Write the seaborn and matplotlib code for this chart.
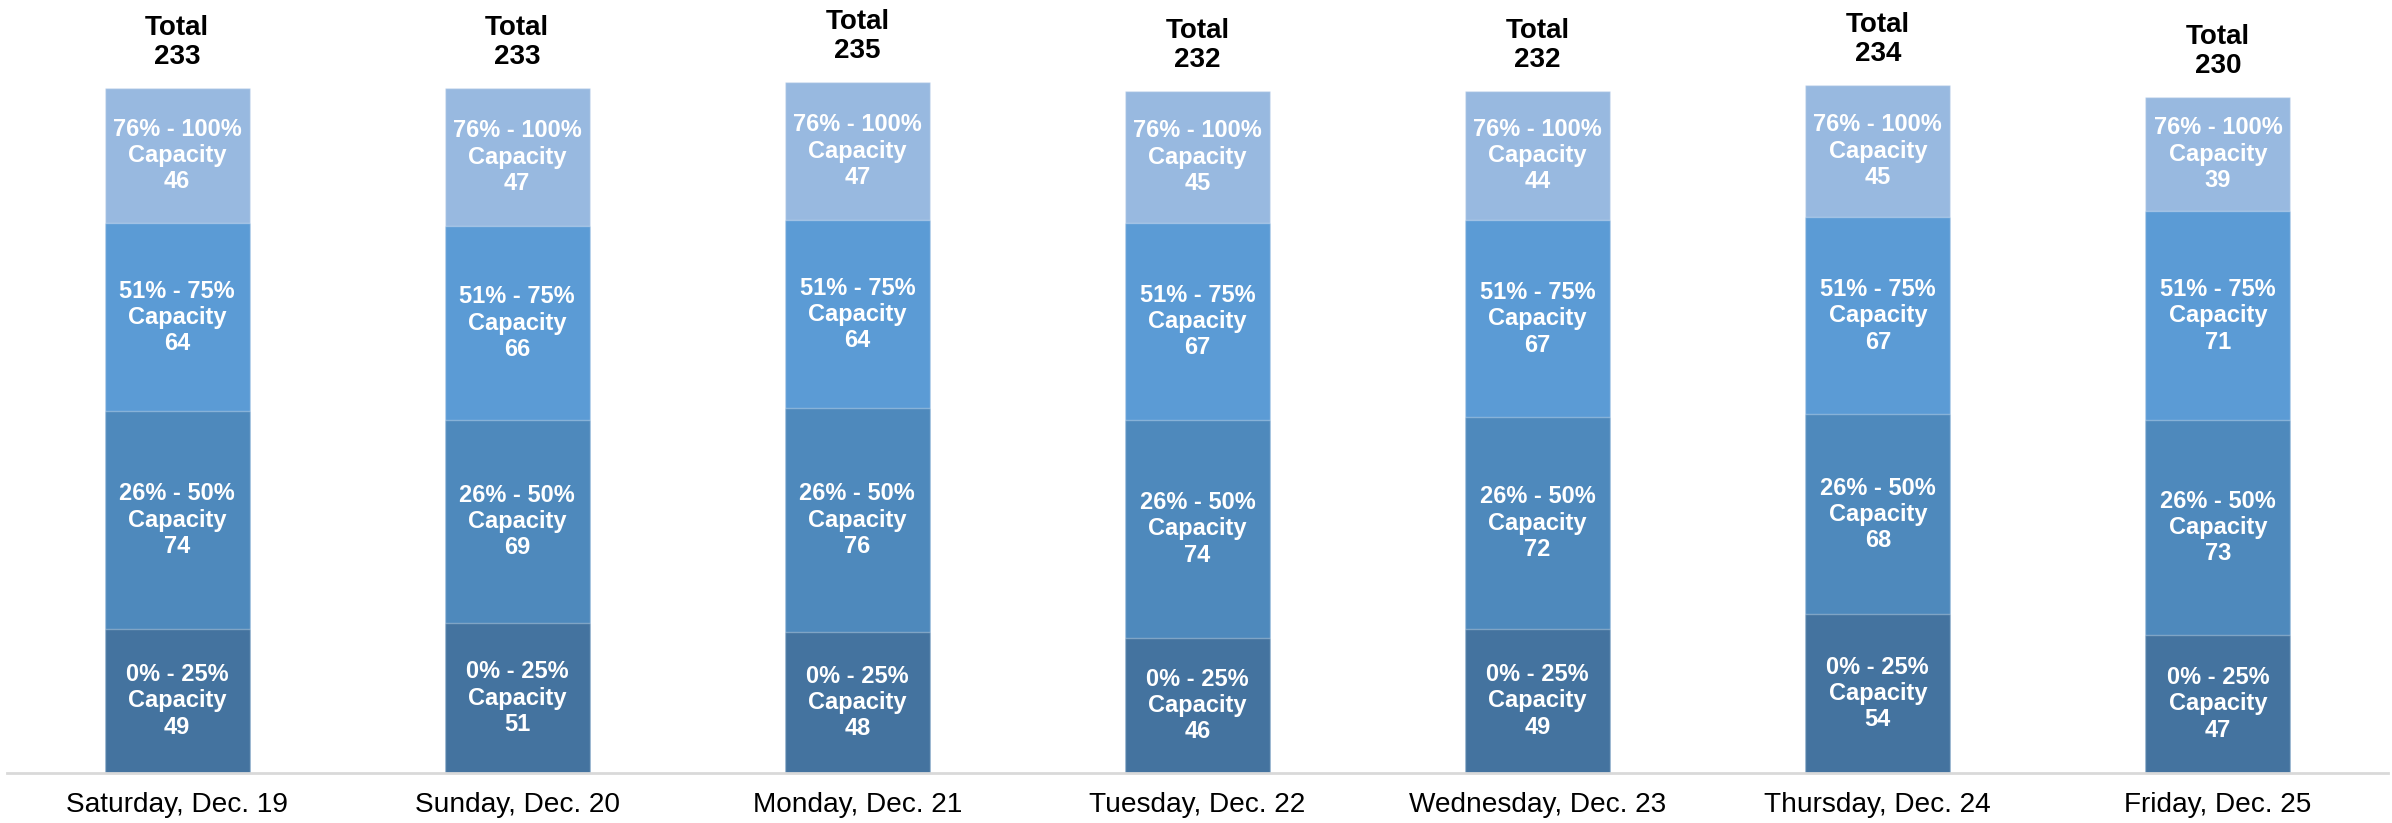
import matplotlib
matplotlib.use("Agg")
import matplotlib.pyplot as plt
import seaborn as sns
import numpy as np

# Chart data
days = ["Saturday, Dec. 19", "Sunday, Dec. 20", "Monday, Dec. 21", "Tuesday, Dec. 22",
        "Wednesday, Dec. 23", "Thursday, Dec. 24", "Friday, Dec. 25"]
band_names = ["0% - 25%", "26% - 50%", "51% - 75%", "76% - 100%"]
cap_0_25 = [49, 51, 48, 46, 49, 54, 47]
cap_26_50 = [74, 69, 76, 74, 72, 68, 73]
cap_51_75 = [64, 66, 64, 67, 67, 67, 71]
cap_76_100 = [46, 47, 47, 45, 44, 45, 39]

band_colors = ["#44739F", "#4E89BC", "#5B9BD5", "#98B9E0"]


def main():
    sns.set_theme(style="white")
    plt.rcParams["font.family"] = ["Liberation Sans", "DejaVu Sans"]

    bands = [cap_0_25, cap_26_50, cap_51_75, cap_76_100]
    values = np.array(bands)
    cum = np.cumsum(values, axis=0)
    totals = cum[-1]

    fig = plt.figure(figsize=(23.92, 8.23), dpi=100)
    ax = fig.add_axes([7 / 2392, 50 / 823, 2381 / 2392, 773 / 823])

    # stacked bars: draw cumulative heights from the tallest down
    for k in range(len(bands) - 1, -1, -1):
        sns.barplot(x=days, y=cum[k], color=band_colors[k], width=0.426,
                    errorbar=None, saturation=1, ax=ax,
                    edgecolor=(1, 1, 1, 0.3), linewidth=1)

    for i in range(len(days)):
        bottom = 0
        for k, name in enumerate(band_names):
            v = values[k][i]
            ax.text(i, bottom + v / 2, f"{name}\nCapacity\n{v}", ha="center", va="center",
                    color="white", fontsize=17, fontweight="bold", linespacing=1.18)
            bottom += v
        ax.annotate(f"Total\n{totals[i]}", (i, totals[i]), xytext=(0, 13),
                    textcoords="offset points", ha="center", va="bottom",
                    fontsize=20, fontweight="bold", color="black", linespacing=1.14)

    ax.set_xlim(-0.5, len(days) - 0.5)
    ax.set_ylim(0, 773 / 2.94)
    ax.set_xlabel("")
    ax.set_ylabel("")
    ax.set_yticks([])
    for s in ["top", "left", "right"]:
        ax.spines[s].set_visible(False)
    ax.spines["bottom"].set_color("#D9D9D9")
    ax.spines["bottom"].set_linewidth(2)
    ax.tick_params(axis="x", length=0, pad=14, labelsize=20.2, labelcolor="black")

    fig.savefig("out.png", dpi=100)
    plt.close(fig)


if __name__ == "__main__":
    main()
